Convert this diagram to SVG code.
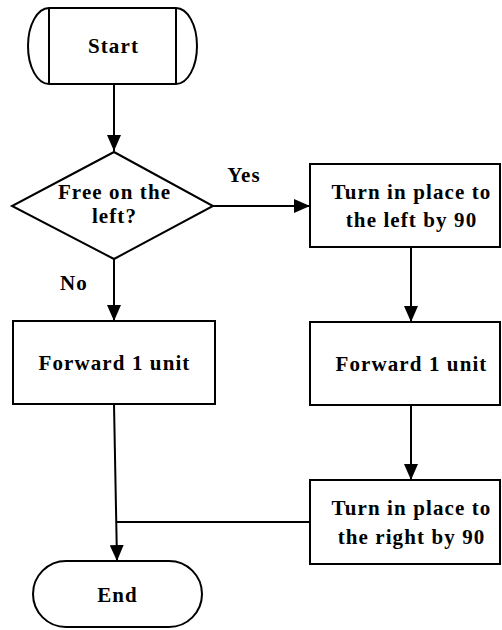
<svg xmlns="http://www.w3.org/2000/svg" width="502" height="630" viewBox="0 0 502 630">
<style>
.s{fill:#fff;stroke:#000;stroke-width:2}
.t{font-family:"Liberation Serif","Times New Roman",serif;font-weight:bold;font-size:21px;letter-spacing:1.1px;fill:#000;text-anchor:middle;dominant-baseline:central}
.c{fill:none;stroke:#000;stroke-width:2}
</style>
<defs>
<marker id="ah" markerWidth="16" markerHeight="14" refX="16" refY="7" orient="auto" markerUnits="userSpaceOnUse">
<path d="M0,0 L16,7 L0,14 Z" fill="#000"/>
</marker>
</defs>
<rect width="502" height="630" fill="#fff"/>
<g id="connectors">
<line class="c" x1="114" y1="84" x2="114" y2="151" marker-end="url(#ah)"/>
<line class="c" x1="213" y1="206" x2="310" y2="206" marker-end="url(#ah)"/>
<line class="c" x1="114" y1="259" x2="114" y2="321" marker-end="url(#ah)"/>
<line class="c" x1="411" y1="247" x2="411" y2="322" marker-end="url(#ah)"/>
<line class="c" x1="411" y1="405" x2="411" y2="480" marker-end="url(#ah)"/>
<line class="c" x1="114" y1="404" x2="117" y2="561" marker-end="url(#ah)"/>
<line class="c" x1="310" y1="522" x2="117" y2="522"/>
<text class="t" x="244" y="175">Yes</text>
<text class="t" x="74" y="283">No</text>
</g>
<g id="start">
<path class="s" d="M49,8 L176,8 A21,38 0 0 1 176,84 L49,84 A21,38 0 0 1 49,8 Z"/>
<line class="c" x1="49" y1="8" x2="49" y2="84"/>
<line class="c" x1="176" y1="8" x2="176" y2="84"/>
<text class="t" x="113.5" y="46">Start</text>
</g>
<g id="decision">
<polygon class="s" points="114,152 213,206 114,259 12,206"/>
<text class="t"><tspan x="114.5" y="192">Free on the</tspan><tspan x="114.5" y="216">left?</tspan></text>
</g>
<g id="forward-left">
<rect class="s" x="13" y="321" width="202" height="83"/>
<text class="t" x="114.5" y="363">Forward 1 unit</text>
</g>
<g id="turn-left">
<rect class="s" x="310" y="164" width="190" height="83"/>
<text class="t"><tspan x="411.5" y="192">Turn in place to</tspan><tspan x="411.5" y="220">the left by 90</tspan></text>
</g>
<g id="forward-right">
<rect class="s" x="310" y="322" width="190" height="83"/>
<text class="t" x="411.5" y="364">Forward 1 unit</text>
</g>
<g id="turn-right">
<rect class="s" x="310" y="480" width="190" height="84"/>
<text class="t"><tspan x="411.5" y="508">Turn in place to</tspan><tspan x="411.5" y="537">the right by 90</tspan></text>
</g>
<g id="end">
<rect class="s" x="33" y="561" width="169" height="66" rx="33" ry="33"/>
<text class="t" x="117.5" y="595">End</text>
</g>
</svg>
